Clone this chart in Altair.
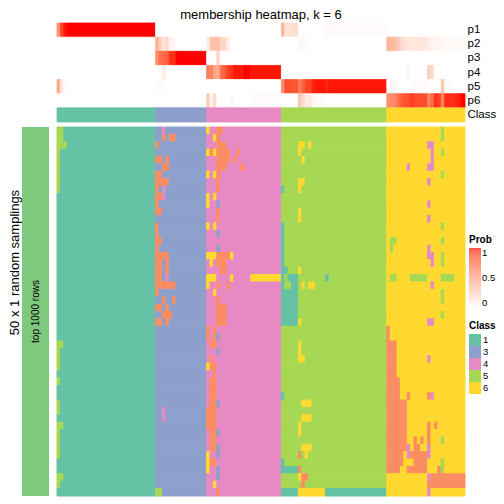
import altair as alt
import pandas as pd

N_COLS = 120
N_ROWS = 50

CLASS_COLORS = {"1": "#66C2A5", "2": "#FC8D62", "3": "#8DA0CB",
                "4": "#E78AC3", "5": "#A6D854", "6": "#FFD92F"}
LEGEND_CLASSES = ["1", "3", "4", "5", "6"]

# class of each sample (column), as (class, number of samples)
class_runs = [("1", 29), ("3", 15), ("4", 22), ("5", 31), ("6", 23)]

prob_names = ["p1", "p2", "p3", "p4", "p5", "p6"]
# membership probabilities as (first col, last col, value); other cells are 0
p1_runs = [(0, 0, .56), (1, 1, .88), (2, 2, .98), (3, 28, 1.0), (66, 66, .38), (67, 68, .16),
           (69, 70, .18), (79, 79, .04), (80, 96, .02)]
p2_runs = [(29, 29, .4), (30, 30, .26), (31, 31, .14), (32, 32, .2), (33, 34, .06),
           (44, 44, .1), (45, 45, .32), (46, 47, .34), (48, 48, .22), (49, 49, .2), (50, 50, .08),
           (71, 72, .04), (73, 73, .02),
           (97, 97, .4), (98, 98, .38), (99, 99, .36), (100, 100, .28), (101, 101, .2),
           (102, 102, .16), (103, 104, .12), (105, 107, .14), (108, 108, .12), (109, 109, .1),
           (110, 112, .06), (113, 119, .03)]
p3_runs = [(29, 29, .58), (30, 30, .72), (31, 31, .76), (32, 32, .78), (33, 34, .94),
           (35, 43, 1.0), (47, 47, .22)]
p4_runs = [(31, 31, .1), (32, 32, .02), (44, 45, .64), (46, 46, .48), (47, 47, .44),
           (48, 48, .74), (49, 49, .8), (50, 50, .9), (51, 51, .94), (52, 54, .98),
           (55, 56, 1.0), (57, 65, .98), (103, 103, .06), (109, 109, .26), (110, 110, .18)]
p5_runs = [(0, 0, .44), (1, 1, .12), (2, 2, .02), (29, 30, .02), (66, 66, .6), (67, 68, .84),
           (69, 70, .82), (71, 71, .66), (72, 72, .78), (73, 74, .88), (75, 75, .96),
           (76, 78, .98), (79, 79, .96), (80, 96, .98), (98, 98, .06), (99, 99, .04),
           (104, 108, .02), (113, 113, .3), (114, 116, .02)]
p6_runs = [(44, 44, .26), (45, 45, .06), (46, 46, .2), (51, 51, .04), (57, 65, .02),
           (71, 71, .3), (72, 72, .18), (73, 73, .1), (74, 74, .12), (75, 75, .04), (76, 78, .02),
           (97, 97, .58), (98, 98, .6), (99, 99, .62), (100, 100, .72), (101, 101, .8),
           (102, 102, .84), (103, 103, .86), (104, 104, .9), (105, 108, .86), (109, 109, .64),
           (110, 110, .76), (111, 111, .94), (112, 112, .9), (113, 113, .64), (114, 116, .94),
           (117, 117, .96), (118, 118, .98), (119, 119, 1.0)]
prob_runs = [p1_runs, p2_runs, p3_runs, p4_runs, p5_runs, p6_runs]

# cells of the 50 samplings that differ from the column's class: (row, first col, last col, class)
deviations = [
    (0, 0, 1, 5), (0, 31, 31, 4), (0, 44, 44, 6), (0, 47, 48, 2), (0, 113, 113, 5),
    (1, 0, 1, 5), (1, 31, 31, 2), (1, 33, 34, 2), (1, 46, 46, 6), (1, 47, 47, 2), (1, 113, 113, 5),
    (2, 0, 2, 5), (2, 29, 29, 2), (2, 47, 49, 2), (2, 71, 72, 6), (2, 74, 74, 6), (2, 109, 110, 4),
    (3, 0, 0, 5), (3, 44, 44, 6), (3, 45, 45, 2), (3, 46, 46, 6), (3, 47, 50, 2), (3, 53, 53, 2),
    (3, 71, 71, 6), (3, 110, 110, 4), (3, 113, 113, 5),
    (4, 0, 0, 5), (4, 29, 30, 2), (4, 32, 32, 2), (4, 47, 50, 2), (4, 52, 52, 2), (4, 72, 72, 6),
    (4, 110, 110, 4),
    (5, 0, 0, 5), (5, 31, 32, 2), (5, 47, 49, 2), (5, 54, 54, 2), (5, 103, 103, 4), (5, 109, 110, 4),
    (6, 0, 0, 5), (6, 29, 30, 2), (6, 44, 44, 6), (6, 46, 46, 6), (6, 47, 47, 2), (6, 113, 113, 5),
    (7, 0, 0, 5), (7, 29, 32, 2), (7, 47, 47, 2), (7, 71, 72, 6), (7, 109, 109, 4),
    (8, 0, 0, 5), (8, 29, 29, 2), (8, 31, 31, 4), (8, 47, 47, 2), (8, 66, 66, 1), (8, 71, 71, 6),
    (9, 29, 30, 2), (9, 31, 31, 4), (9, 44, 44, 6), (9, 46, 46, 6),
    (10, 29, 29, 2), (10, 44, 44, 6), (10, 47, 47, 3), (10, 109, 109, 4),
    (11, 29, 30, 2), (11, 47, 47, 2), (11, 71, 71, 6),
    (12, 47, 47, 2), (12, 71, 71, 6), (12, 109, 109, 4),
    (13, 29, 29, 2), (13, 44, 44, 6), (13, 46, 46, 6), (13, 66, 66, 1), (13, 113, 113, 5),
    (14, 29, 29, 2), (14, 47, 47, 3), (14, 66, 66, 1),
    (15, 29, 30, 2), (15, 66, 66, 1), (15, 98, 99, 5), (15, 113, 113, 5),
    (16, 29, 29, 2), (16, 47, 47, 3), (16, 66, 66, 1), (16, 98, 98, 5), (16, 109, 109, 4),
    (17, 29, 32, 2), (17, 44, 46, 6), (17, 47, 50, 2), (17, 51, 51, 6), (17, 66, 66, 1),
    (17, 109, 110, 4), (17, 113, 113, 5),
    (18, 29, 30, 2), (18, 32, 32, 2), (18, 45, 45, 6), (18, 47, 49, 2), (18, 66, 66, 1),
    (18, 110, 110, 4), (18, 113, 113, 5),
    (19, 29, 30, 2), (19, 32, 32, 2), (19, 48, 49, 2), (19, 66, 67, 1), (19, 71, 71, 6),
    (20, 29, 30, 2), (20, 32, 32, 4), (20, 44, 46, 6), (20, 51, 51, 6), (20, 57, 65, 6),
    (20, 66, 66, 1), (20, 68, 70, 1), (20, 79, 79, 1), (20, 98, 99, 5), (20, 104, 108, 5),
    (20, 113, 116, 5),
    (21, 29, 34, 2), (21, 44, 44, 6), (21, 47, 47, 2), (21, 50, 50, 2), (21, 66, 66, 1),
    (21, 69, 70, 1), (21, 72, 72, 6), (21, 74, 75, 6), (21, 110, 110, 4),
    (22, 29, 29, 2), (22, 46, 46, 6), (22, 66, 70, 1), (22, 113, 113, 5),
    (23, 31, 31, 2), (23, 34, 34, 2), (23, 47, 47, 2), (23, 66, 70, 1), (23, 113, 113, 5),
    (24, 29, 30, 2), (24, 32, 32, 2), (24, 47, 49, 2), (24, 66, 70, 1),
    (25, 31, 33, 2), (25, 47, 49, 2), (25, 66, 70, 1), (25, 113, 113, 5),
    (26, 29, 30, 2), (26, 32, 32, 2), (26, 47, 49, 2), (26, 66, 70, 1), (26, 71, 71, 6),
    (26, 109, 110, 4),
    (27, 44, 44, 2), (27, 46, 46, 2), (27, 97, 97, 2),
    (28, 44, 44, 2), (28, 46, 46, 2), (28, 47, 47, 3), (28, 97, 97, 2),
    (29, 0, 1, 5), (29, 45, 46, 2), (29, 71, 71, 6), (29, 97, 99, 2),
    (30, 0, 0, 5), (30, 47, 47, 3), (30, 71, 71, 6), (30, 97, 99, 2),
    (31, 0, 0, 5), (31, 45, 45, 2), (31, 71, 72, 6), (31, 97, 99, 2), (31, 109, 109, 4),
    (32, 0, 0, 5), (32, 44, 44, 6), (32, 45, 46, 2), (32, 97, 99, 2),
    (33, 46, 46, 2), (33, 97, 99, 2),
    (34, 0, 0, 5), (34, 45, 46, 2), (34, 97, 100, 2),
    (35, 45, 46, 2), (35, 97, 100, 2),
    (36, 45, 46, 2), (36, 66, 66, 1), (36, 97, 100, 2), (36, 103, 103, 2), (36, 109, 109, 2),
    (36, 110, 110, 4),
    (37, 0, 0, 5), (37, 45, 46, 2), (37, 47, 47, 3), (37, 72, 74, 6), (37, 97, 102, 2),
    (38, 0, 0, 5), (38, 31, 31, 4), (38, 44, 46, 2), (38, 97, 102, 2),
    (39, 31, 31, 4), (39, 44, 46, 2), (39, 72, 74, 6), (39, 97, 102, 2),
    (40, 0, 1, 5), (40, 44, 46, 2), (40, 71, 71, 6), (40, 97, 102, 2), (40, 109, 109, 2),
    (40, 111, 111, 2),
    (41, 0, 0, 5), (41, 45, 46, 2), (41, 47, 47, 3), (41, 71, 71, 6), (41, 97, 102, 2),
    (41, 109, 109, 2),
    (42, 0, 0, 5), (42, 45, 46, 2), (42, 97, 102, 2), (42, 105, 105, 2), (42, 107, 107, 2),
    (42, 109, 109, 2), (42, 113, 113, 5),
    (43, 0, 0, 5), (43, 45, 46, 2), (43, 47, 47, 3), (43, 72, 74, 6), (43, 97, 102, 2),
    (43, 103, 103, 4), (43, 105, 106, 2), (43, 109, 109, 4),
    (44, 0, 0, 5), (44, 44, 44, 6), (44, 47, 47, 3), (44, 71, 71, 2), (44, 73, 73, 6),
    (44, 97, 101, 2), (44, 103, 103, 4), (44, 104, 108, 2), (44, 109, 109, 4),
    (45, 44, 44, 6), (45, 45, 46, 2), (45, 66, 66, 1), (45, 97, 101, 2), (45, 105, 108, 2),
    (45, 113, 113, 5),
    (46, 44, 44, 6), (46, 47, 47, 3), (46, 66, 70, 1), (46, 71, 71, 2), (46, 97, 100, 2),
    (46, 103, 108, 2), (46, 112, 112, 2), (46, 113, 113, 5),
    (47, 0, 1, 5), (47, 47, 47, 3), (47, 71, 71, 6), (47, 72, 73, 2), (47, 109, 109, 4),
    (47, 110, 119, 2),
    (48, 0, 0, 5), (48, 46, 46, 6), (48, 72, 72, 2), (48, 109, 119, 2),
    (49, 29, 30, 5), (49, 47, 47, 2), (49, 66, 70, 1), (49, 71, 78, 6), (49, 79, 96, 1),
    (49, 109, 109, 4),
]

TITLE = "membership heatmap, k = 6"
LEFT_TITLE = "50 x 1 random samplings"
LEFT_LABEL = "top 1000 rows"

# ---------- build tables ----------
col_class = []
for cls, n in class_runs:
    col_class += [cls] * n


def merge_runs(values):
    out, start = [], 0
    for c in range(1, len(values) + 1):
        if c == len(values) or values[c] != values[start]:
            out.append((start, c, values[start]))
            start = c
    return out


prob_records = []
for name, runs in zip(prob_names, prob_runs):
    vals = [0.0] * N_COLS
    for a, b, v in runs:
        for c in range(a, b + 1):
            vals[c] = v
    for c0, c1, v in merge_runs(vals):
        prob_records.append({"row": name, "c0": c0, "c1": c1, "prob": v})
prob_df = pd.DataFrame(prob_records)

class_df = pd.DataFrame([{"row": "Class", "c0": c0, "c1": c1, "cls": v}
                         for c0, c1, v in merge_runs(col_class)])

grid = [list(col_class) for _ in range(N_ROWS)]
for r, a, b, cls in deviations:
    for c in range(a, b + 1):
        grid[r][c] = str(cls)
main_records = []
for r in range(N_ROWS):
    for c0, c1, v in merge_runs(grid[r]):
        main_records.append({"r0": r, "r1": r + 1, "c0": c0, "c1": c1, "cls": v})
main_df = pd.DataFrame(main_records)

# ---------- scales ----------
xs = alt.Scale(domain=[0, N_COLS], nice=False, zero=False)
top_rows = prob_names + ["Class"]
ys_top = alt.Scale(domain=top_rows, paddingInner=0, paddingOuter=0)
yaxis_top = alt.Axis(orient="right", title=None, ticks=False, domain=False,
                     labelFontSize=11.5, labelPadding=2, labelColor="black")
prob_scale = alt.Scale(domain=[0, 1], range=["#FFFFFF", "#FF0000"], interpolate="lab")
class_scale = alt.Scale(domain=list(CLASS_COLORS), range=list(CLASS_COLORS.values()))

W, H_TOP, H_MAIN, W_LEFT = 408, 99, 369, 27

# ---------- top panel: probabilities + class ----------
prob_layer = alt.Chart(prob_df).mark_rect(strokeWidth=0.8).encode(
    x=alt.X("c0:Q", scale=xs, axis=None), x2="c1:Q",
    y=alt.Y("row:N", scale=ys_top, axis=yaxis_top),
    color=alt.Color("prob:Q", scale=prob_scale, legend=None),
    stroke=alt.Stroke("prob:Q", scale=prob_scale, legend=None),
)
class_layer = alt.Chart(class_df).mark_rect(strokeWidth=0.8).encode(
    x=alt.X("c0:Q", scale=xs, axis=None), x2="c1:Q",
    y=alt.Y("row:N", scale=ys_top, axis=yaxis_top),
    color=alt.Color("cls:N", scale=class_scale, legend=None),
    stroke=alt.Stroke("cls:N", scale=class_scale, legend=None),
)
top = alt.layer(prob_layer, class_layer).resolve_scale(
    color="independent", stroke="independent"
).properties(
    width=W, height=H_TOP,
    title=alt.Title(TITLE, fontSize=13, fontWeight="normal", offset=1, anchor="middle", color="black"),
)

# ---------- main panel ----------
main_rect = alt.Chart(main_df).mark_rect(strokeWidth=1).encode(
    x=alt.X("c0:Q", scale=xs, axis=None), x2="c1:Q",
    y=alt.Y("r0:Q", scale=alt.Scale(domain=[0, N_ROWS], reverse=True, nice=False, zero=False),
            axis=None), y2="r1:Q",
    color=alt.Color("cls:N", scale=class_scale, legend=alt.Legend(
        title="Class", values=LEGEND_CLASSES, orient="none", legendX=412, legendY=194,
        symbolType="square", symbolSize=144, symbolStrokeWidth=0, rowPadding=0,
        labelFontSize=9.5, titleFontSize=10, titleFontWeight="bold", titlePadding=3,
        labelColor="black", titleColor="black", labelOffset=2)),
    stroke=alt.Stroke("cls:N", scale=class_scale, legend=None),
)
legend_df = pd.DataFrame({"prob": [0.0, 1.0]})
prob_legend = alt.Chart(legend_df).mark_square(size=0).encode(
    x=alt.value(0), y=alt.value(0),
    color=alt.Color("prob:Q", scale=prob_scale, legend=alt.Legend(
        title="Prob", orient="none", legendX=412, legendY=108, values=[0, 0.5, 1],
        format=".1~f", gradientLength=60, gradientThickness=12, gradientStrokeWidth=0,
        labelFontSize=9.5, titleFontSize=10, titleFontWeight="bold", titlePadding=3,
        labelColor="black", titleColor="black", labelOffset=1)),
)
main = alt.layer(main_rect, prob_legend).resolve_scale(color="independent").properties(
    width=W, height=H_MAIN)

# ---------- left annotation ----------
left_df = pd.DataFrame({"label": [LEFT_LABEL]})
left_base = alt.Chart(left_df).encode(
    x=alt.X("label:N", axis=None, scale=alt.Scale(paddingInner=0, paddingOuter=0)),
    y=alt.Y("label:N", scale=alt.Scale(paddingInner=0, paddingOuter=0),
            axis=alt.Axis(title=LEFT_TITLE, labels=False, ticks=False, domain=False,
                          titleFontSize=13, titleFontWeight="normal", titlePadding=1,
                          titleColor="black", titleY=135)),
)
left_panel = alt.layer(
    left_base.mark_rect(color="#7FC97F"),
    left_base.mark_text(angle=270, fontSize=10, color="black").encode(text="label:N"),
).properties(width=W_LEFT, height=H_MAIN)

spacer = alt.Chart(pd.DataFrame({"a": [0]})).mark_text(text="").encode(
    x=alt.value(0), y=alt.value(0)
).properties(width=W_LEFT, height=H_TOP)

chart = alt.concat(
    spacer, top, left_panel, main, columns=2, align="each",
    spacing={"row": 3, "column": 7}, padding=0,
).configure(font="Liberation Sans").configure_view(stroke=None)

chart.save("out.html", embed_options={"renderer": "svg", "actions": False})
